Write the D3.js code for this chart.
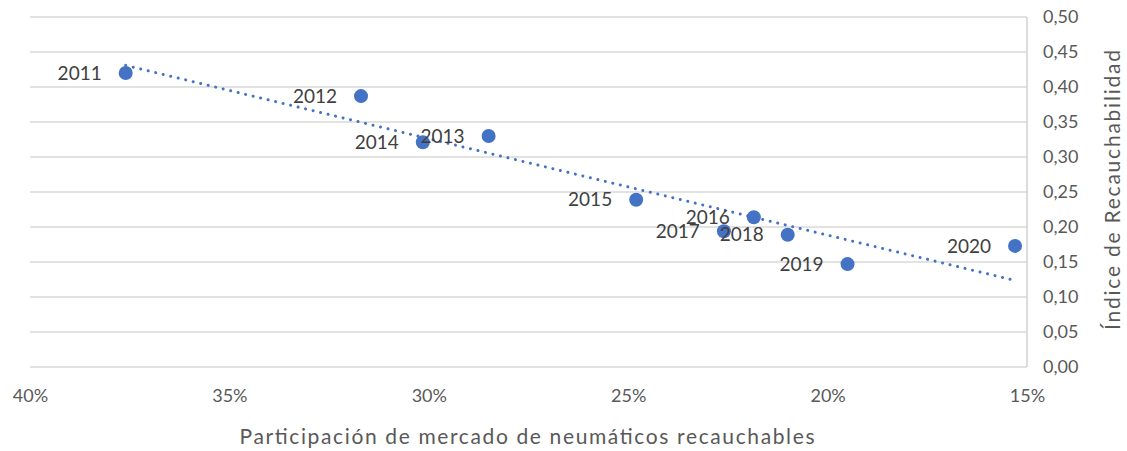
<!DOCTYPE html>
<html>
<head>
<meta charset="utf-8">
<script src="https://cdn.jsdelivr.net/npm/d3@7"></script>
<style>
  body { margin: 0; background: #fff; }
  svg { font-family: Lato, "Noto Sans", sans-serif; }
</style>
</head>
<body>
<svg></svg>
<script>
// data
const years = ["2011", "2012", "2013", "2014", "2015", "2016", "2017", "2018", "2019", "2020"];
const share = [37.6, 31.7, 28.5, 30.15, 24.8, 21.85, 22.6, 21.0, 19.5, 15.3]; // %
const index = [0.420, 0.387, 0.330, 0.321, 0.239, 0.214, 0.194, 0.189, 0.147, 0.173];
const xTicks = [40, 35, 30, 25, 20, 15];
const yTicks = [0, 0.05, 0.1, 0.15, 0.2, 0.25, 0.3, 0.35, 0.4, 0.45, 0.5];

let width = 1127;
let height = 451;
let plotLeft = 30, plotRight = 1027, plotTop = 17, plotBottom = 367;

let svg = d3.select("svg").attr("width", width).attr("height", height);

let xScale = d3.scaleLinear().domain([40, 15]).range([plotLeft, plotRight]);
let yScale = d3.scaleLinear().domain([0, 0.5]).range([plotBottom, plotTop]);

let points = years.map((y, i) => ({ year: y, x: share[i], y: index[i] }));

// gridlines
svg.append("g")
  .selectAll("line")
  .data(yTicks)
  .enter()
  .append("line")
  .attr("x1", plotLeft)
  .attr("x2", plotRight)
  .attr("y1", (d) => yScale(d))
  .attr("y2", (d) => yScale(d))
  .attr("stroke", "#d9d9d9")
  .attr("stroke-width", 1.5);

// right axis line
svg.append("line")
  .attr("x1", plotRight).attr("x2", plotRight)
  .attr("y1", yScale(0.5)).attr("y2", yScale(0))
  .attr("stroke", "#d0d0d0")
  .attr("stroke-width", 1.5);

// y axis (right side)
let yAxis = d3.axisRight(yScale)
  .tickValues(yTicks)
  .tickSize(0)
  .tickPadding(16)
  .tickFormat((d) => d3.format(".2f")(d).replace(".", ","));

let gy = svg.append("g")
  .attr("transform", "translate(" + plotRight + ",0)")
  .call(yAxis);
gy.select(".domain").remove();
gy.selectAll("text")
  .attr("fill", "#595959")
  .style("font-size", "18px")
  .style("font-family", "Lato, sans-serif");

// x axis (labels only)
let xAxis = d3.axisBottom(xScale)
  .tickValues(xTicks)
  .tickSize(0)
  .tickPadding(22)
  .tickFormat((d) => d + "%");

let gx = svg.append("g")
  .attr("transform", "translate(0," + plotBottom + ")")
  .call(xAxis);
gx.select(".domain").remove();
gx.selectAll("text")
  .attr("fill", "#595959")
  .style("font-size", "18px")
  .style("font-family", "Lato, sans-serif");

// linear trendline (least squares)
let mx = d3.mean(share), my = d3.mean(index);
let sxy = d3.sum(share, (s, i) => (s - mx) * (index[i] - my));
let sxx = d3.sum(share, (s) => (s - mx) * (s - mx));
let slope = sxy / sxx;
let icpt = my - slope * mx;
let xExt = d3.extent(share);
let trend = [xExt[1], xExt[0]].map((x) => [x, icpt + slope * x]);

svg.append("path")
  .datum(trend)
  .attr("d", d3.line().x((d) => xScale(d[0])).y((d) => yScale(d[1])))
  .attr("fill", "none")
  .attr("stroke", "#4472c4")
  .attr("stroke-width", 3)
  .attr("stroke-linecap", "round")
  .attr("stroke-dasharray", "0.01 7.7");

// points
svg.selectAll("circle")
  .data(points)
  .enter()
  .append("circle")
  .attr("cx", (d) => xScale(d.x))
  .attr("cy", (d) => yScale(d.y))
  .attr("r", 7)
  .attr("fill", "#4472c4");

// data labels
svg.append("g")
  .selectAll("text")
  .data(points)
  .enter()
  .append("text")
  .attr("x", (d) => xScale(d.x) - 24)
  .attr("y", (d) => yScale(d.y))
  .attr("dy", "0.35em")
  .attr("text-anchor", "end")
  .attr("fill", "#404040")
  .style("font-size", "19px")
  .text((d) => d.year);

// axis titles
svg.append("text")
  .attr("x", 527)
  .attr("y", 444)
  .attr("text-anchor", "middle")
  .attr("fill", "#595959")
  .attr("textLength", 575)
  .attr("lengthAdjust", "spacing")
  .style("font-size", "21px")
  .text("Participación de mercado de neumáticos recauchables");

svg.append("text")
  .attr("transform", "translate(1120,190) rotate(-90)")
  .attr("text-anchor", "middle")
  .attr("fill", "#595959")
  .attr("textLength", 280)
  .attr("lengthAdjust", "spacing")
  .style("font-size", "21px")
  .text("Índice de Recauchabilidad");
</script>
</body>
</html>
